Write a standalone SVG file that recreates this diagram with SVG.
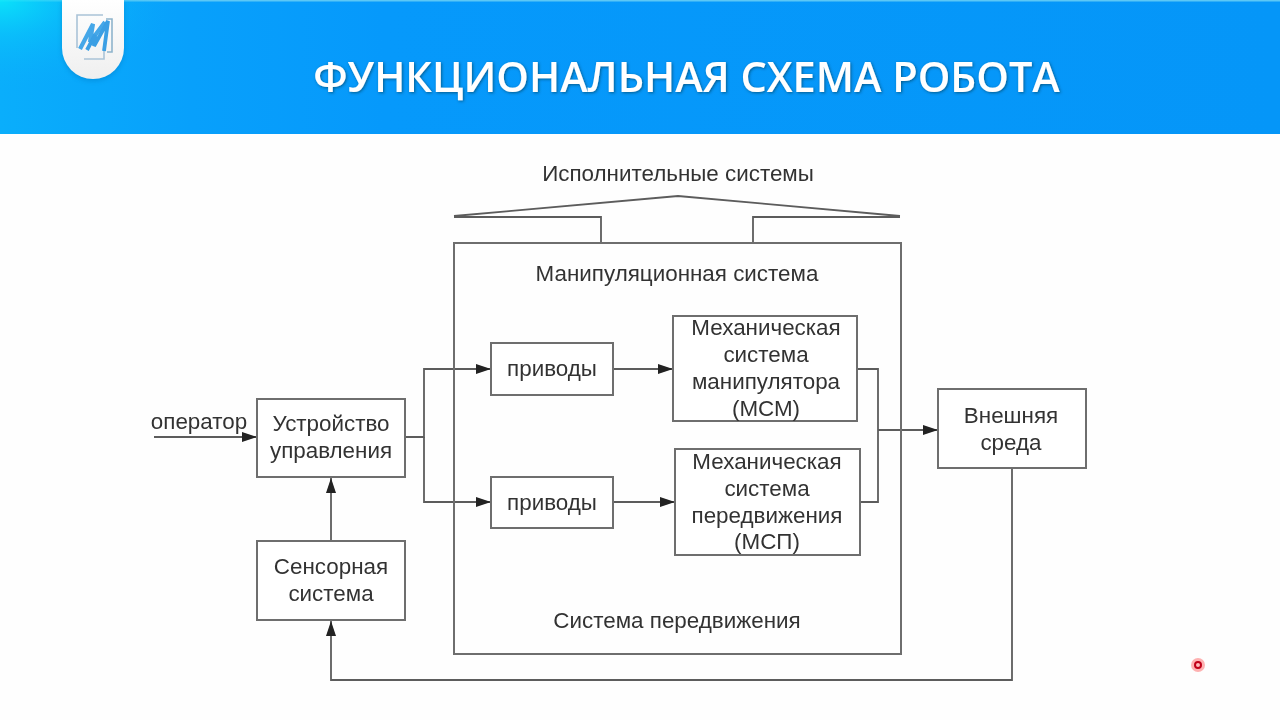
<svg xmlns="http://www.w3.org/2000/svg" width="1280" height="720" viewBox="0 0 1280 720">
<defs>
<linearGradient id="band" x1="0" y1="0" x2="1" y2="0"><stop offset="0" stop-color="#0aaefb"/><stop offset="0.15" stop-color="#08a0fb"/><stop offset="0.3" stop-color="#0699fb"/><stop offset="1" stop-color="#0596f8"/></linearGradient>
<radialGradient id="glow" cx="0" cy="0" r="1" gradientUnits="userSpaceOnUse" gradientTransform="translate(0 0) scale(170 90)"><stop offset="0" stop-color="#0ae8fa" stop-opacity="0.9"/><stop offset="0.4" stop-color="#0ad0fa" stop-opacity="0.45"/><stop offset="1" stop-color="#0ab0fa" stop-opacity="0"/></radialGradient>
<linearGradient id="tab" x1="0" y1="0" x2="0" y2="1"><stop offset="0" stop-color="#fff"/><stop offset="1" stop-color="#efefef"/></linearGradient>
<filter id="soft" x="-20%" y="-20%" width="140%" height="140%"><feGaussianBlur stdDeviation="2.5"/></filter>
<filter id="titleShadow" x="-5%" y="-30%" width="110%" height="160%"><feDropShadow dx="1" dy="1" stdDeviation="1.5" flood-color="#034" flood-opacity="0.6"/></filter>
<filter id="blur" x="-5%" y="-5%" width="110%" height="110%"><feGaussianBlur stdDeviation="0.55"/></filter>
<filter id="logoBlur" x="-10%" y="-10%" width="120%" height="120%"><feGaussianBlur stdDeviation="0.6"/></filter>
<marker id="arr" markerUnits="userSpaceOnUse" markerWidth="16" markerHeight="12" refX="15" refY="6" orient="auto"><path d="M0 1 L15 6 L0 11 Z" fill="#222"/></marker>
</defs>
<style>
.box{fill:#fff;stroke:#6e6e6e;stroke-width:2}
.line{fill:none;stroke:#5c5c5c;stroke-width:1.8}
.txt{font-family:"Liberation Sans",Arial,sans-serif;font-size:22.4px;fill:#333;text-anchor:middle}
</style>
<rect width="1280" height="720" fill="#fefefe"/>
<g id="header">
<rect width="1280" height="134" fill="url(#band)"/>
<rect width="1280" height="1.5" fill="#5cc8f6"/>
<rect width="200" height="134" fill="url(#glow)"/>
<path d="M62 0 H124 V48 A31 31 0 0 1 62 48 Z" fill="#0578c0" opacity="0.45" filter="url(#soft)" transform="translate(0 2)"/>
<path d="M62 0 H124 V48 A31 31 0 0 1 62 48 Z" fill="url(#tab)"/>
<g filter="url(#logoBlur)">
<path d="M77 48 V15 H103 M84 59 H104 V50" fill="none" stroke="#aac4d8" stroke-width="1.6"/>
<path d="M106 19 H112 V52 H107" fill="none" stroke="#8fb4cc" stroke-width="1.6"/>
<path d="M80 49 L93 24 L90 42 L105 22" fill="none" stroke="#45a7e8" stroke-width="4.2"/>
<path d="M87 50 L95 35 L94 46 L108 21 L104 51" fill="none" stroke="#3a9fe4" stroke-width="3.8"/>
</g>
<text x="686.500" y="92" text-anchor="middle" font-family="'Open Sans','Liberation Sans',sans-serif" font-size="41.500" font-weight="600" fill="#fff" filter="url(#titleShadow)">ФУНКЦИОНАЛЬНАЯ СХЕМА РОБОТА</text>
</g>
<g filter="url(#blur)">
<g id="connectors">
<path class="line" d="M454 216 L678 196 L900 216"/>
<path class="line" d="M454 217 H601 V243 M900 217 H753 V243"/>
<path class="line" marker-end="url(#arr)" d="M154 437 H257"/>
<path class="line" marker-end="url(#arr)" d="M405 437 H424 V369 H491"/>
<path class="line" marker-end="url(#arr)" d="M424 437 V502 H491"/>
<path class="line" marker-end="url(#arr)" d="M613 369 H673"/>
<path class="line" marker-end="url(#arr)" d="M613 502 H675"/>
<path class="line" d="M857 369 H878 V502 H860"/>
<path class="line" marker-end="url(#arr)" d="M878 430 H938"/>
<path class="line" marker-end="url(#arr)" d="M1012 468 V680 H331 V621"/>
<path class="line" marker-end="url(#arr)" d="M331 541 V478"/>
</g>
<g id="executive-systems"><text class="txt" x="678" y="181">Исполнительные системы</text></g>
<g id="container"><rect x="454" y="243" width="447" height="411" fill="none" stroke="#6e6e6e" stroke-width="2"/>
<text class="txt" x="677" y="281">Манипуляционная система</text>
<text class="txt" x="677" y="628">Система передвижения</text></g>
<g id="operator"><text class="txt" x="199" y="429">оператор</text></g>
<g id="control"><rect class="box" x="257" y="399" width="148" height="78"/><text class="txt" x="331" y="431">Устройство</text><text class="txt" x="331" y="458">управления</text></g>
<g id="sensor"><rect class="box" x="257" y="541" width="148" height="79"/><text class="txt" x="331" y="574">Сенсорная</text><text class="txt" x="331" y="601">система</text></g>
<g id="drive1"><rect class="box" x="491" y="343" width="122" height="52"/><text class="txt" x="552" y="376">приводы</text></g>
<g id="drive2"><rect class="box" x="491" y="477" width="122" height="51"/><text class="txt" x="552" y="510">приводы</text></g>
<g id="msm"><rect class="box" x="673" y="316" width="184" height="105"/><text class="txt" x="766" y="335">Механическая</text><text class="txt" x="766" y="362">система</text><text class="txt" x="766" y="389">манипулятора</text><text class="txt" x="766" y="416">(МСМ)</text></g>
<g id="msp"><rect class="box" x="675" y="449" width="185" height="106"/><text class="txt" x="767" y="469">Механическая</text><text class="txt" x="767" y="496">система</text><text class="txt" x="767" y="523">передвижения</text><text class="txt" x="767" y="549">(МСП)</text></g>
<g id="environment"><rect class="box" x="938" y="389" width="148" height="79"/><text class="txt" x="1011" y="423">Внешняя</text><text class="txt" x="1011" y="450">среда</text></g>
</g>
<g id="pointer"><circle cx="1198" cy="665" r="7" fill="#f55" opacity="0.45"/><circle cx="1198" cy="665" r="3" fill="#fbb" stroke="#c00018" stroke-width="2"/></g>
</svg>
